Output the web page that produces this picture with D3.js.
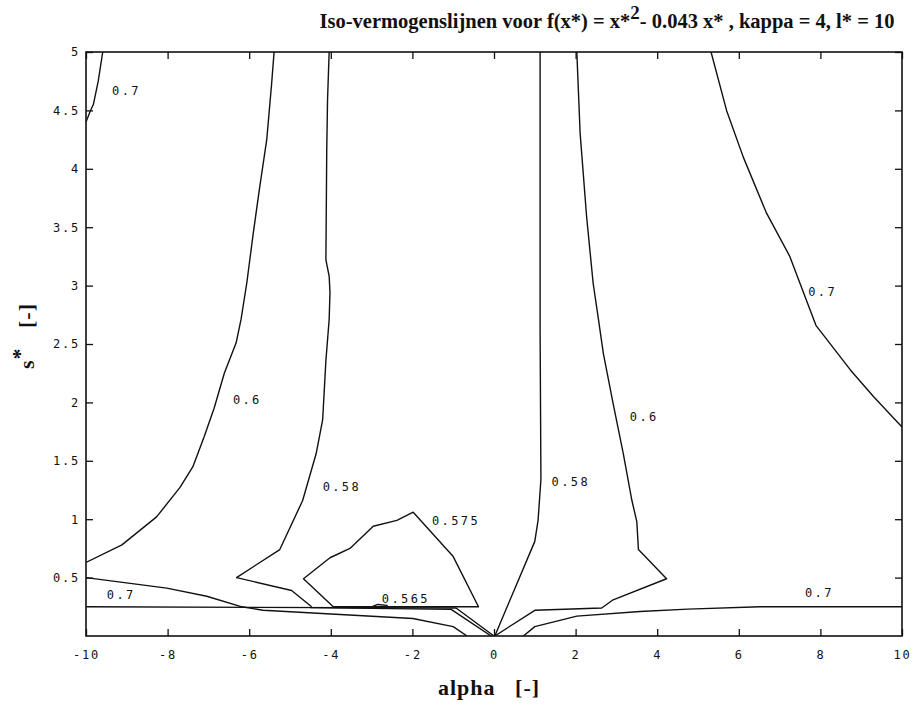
<!DOCTYPE html>
<html>
<head>
<meta charset="utf-8">
<script src="https://cdnjs.cloudflare.com/ajax/libs/d3/7.8.5/d3.min.js"></script>
<style>
  body { margin: 0; background: #fff; }
  .tick text { font-family: "DejaVu Sans Mono", monospace; font-size: 12px; letter-spacing: 1.8px; fill: #111; }
  .tick line { stroke: #111; stroke-width: 1.3; }
  .serif { font-family: "Liberation Serif", "Times New Roman", serif; font-weight: bold; fill: #111; white-space: pre; }
</style>
</head>
<body>
<div id="chart"></div>
<script>

// axis ticks
var xTicks = [-10, -8, -6, -4, -2, 0, 2, 4, 6, 8, 10];
var yTicks = [0.5, 1, 1.5, 2, 2.5, 3, 3.5, 4, 4.5, 5];

// iso lines, points as [alpha, s*]
var iso07TopLeft = [[-10, 4.4], [-9.9, 4.49], [-9.82, 4.55], [-9.7, 4.75], [-9.59, 5]];
var iso06Left = [[-5.39, 5], [-5.45, 4.73], [-5.57, 4.25], [-5.74, 3.85], [-5.9, 3.45], [-6.06, 3.02],
    [-6.2, 2.71], [-6.32, 2.51], [-6.61, 2.25], [-6.86, 1.95], [-7.1, 1.71], [-7.38, 1.45],
    [-7.7, 1.27], [-8.27, 1.02], [-9.12, 0.78], [-10, 0.63]];
var iso058Left = [[-4.04, 5], [-4.08, 4.59], [-4.1, 4.14], [-4.12, 3.22], [-4.04, 3.08], [-4.02, 2.94],
    [-4.04, 2.71], [-4.12, 2.36], [-4.2, 1.85], [-4.36, 1.56], [-4.69, 1.16], [-5.25, 0.74],
    [-6.31, 0.5], [-4.96, 0.39], [-4.47, 0.25]];
var iso0575 = [[-3.94, 0.25], [-4.67, 0.49], [-4.02, 0.67], [-3.53, 0.75], [-2.96, 0.94], [-2.38, 0.99],
    [-1.98, 1.06], [-1.0, 0.68], [-0.38, 0.25], [-3.94, 0.25]];
var iso0565Loop = [[-3.0, 0.25], [-2.85, 0.27], [-2.62, 0.262], [-2.7, 0.245], [-3.0, 0.25]];
var iso07LowLeft = [[-10, 0.5], [-8.02, 0.41], [-7.04, 0.34], [-6.18, 0.25], [-5.66, 0.22],
    [-1.99, 0.15], [-1.0, 0.08], [-0.66, 0.0]];
var isoFlatLeft = [[-10, 0.25], [-0.93, 0.24], [0, 0]];
var isoFlatLeft2 = [[-4.5, 0.243], [-1.05, 0.228], [-0.07, 0]];
var iso058Right = [[1.13, 5], [1.13, 2.62], [1.15, 1.34], [1.08, 0.99], [1.0, 0.81], [0.02, 0.0]];
var iso06Right = [[2.03, 5], [2.11, 4.31], [2.27, 3.59], [2.43, 3.02], [2.56, 2.71], [2.68, 2.42],
    [2.92, 1.99], [3.17, 1.56], [3.38, 1.16], [3.5, 0.98], [3.54, 0.74], [4.23, 0.49],
    [2.92, 0.31], [2.64, 0.24], [1.0, 0.22], [0.02, 0.0]];
var iso07RightTop = [[5.32, 5], [5.7, 4.5], [6.11, 4.1], [6.68, 3.62], [7.25, 3.25], [7.89, 2.66],
    [8.73, 2.28], [9.3, 2.05], [10, 1.79]];
var iso07RightLow = [[0.72, 0], [1.0, 0.08], [2.03, 0.17], [3.58, 0.21], [4.75, 0.23], [6.52, 0.25], [10, 0.25]];

var isoLines = [iso07TopLeft, iso06Left, iso058Left, iso0575, iso0565Loop, iso07LowLeft,
    isoFlatLeft, isoFlatLeft2, iso058Right, iso06Right, iso07RightTop, iso07RightLow];

// inline labels: text, alpha, s*
var isoLabels = [["0.7", -9.36, 4.67], ["0.6", -6.4, 2.02], ["0.58", -4.2, 1.28], ["0.575", -1.52, 0.99],
    ["0.565", -2.75, 0.32], ["0.7", -9.49, 0.35], ["0.58", 1.41, 1.32], ["0.6", 3.33, 1.88],
    ["0.7", 7.7, 2.95], ["0.7", 7.62, 0.37]];

var W = 914, H = 705;
var margin = {top: 52, right: 12, bottom: 69, left: 86};
var w = W - margin.left - margin.right;
var h = H - margin.top - margin.bottom;

var svg = d3.select("#chart").append("svg")
    .attr("width", W)
    .attr("height", H);

var g = svg.append("g")
    .attr("transform", "translate(" + margin.left + "," + margin.top + ")");

var x = d3.scaleLinear().domain([-10, 10]).range([0, w]);
var y = d3.scaleLinear().domain([0, 5]).range([h, 0]);

// title
var title = svg.append("text")
    .attr("class", "serif")
    .attr("x", 607)
    .attr("y", 28)
    .attr("text-anchor", "middle")
    .attr("font-size", "20.5px");
title.append("tspan").text("Iso-vermogenslijnen voor f(x*) = x*");
title.append("tspan").attr("dy", -9).attr("font-size", "19px").text("2");
title.append("tspan").attr("dy", 9).text("- 0.043 x* , kappa = 4, l* = 10");

// axes, ticks pointing inward
g.append("g")
    .attr("transform", "translate(0," + h + ")")
    .call(d3.axisBottom(x).tickValues(xTicks).tickSize(-7).tickPadding(14)
        .tickFormat(function(d) { return String(d); }))
    .call(function(a) { a.select(".domain").remove(); });

g.append("g")
    .call(d3.axisTop(x).tickValues(xTicks).tickSize(-7).tickFormat(""))
    .call(function(a) { a.select(".domain").remove(); });

g.append("g")
    .call(d3.axisLeft(y).tickValues(yTicks).tickSize(-7).tickPadding(6)
        .tickFormat(function(d) { return String(d); }))
    .call(function(a) { a.select(".domain").remove(); });

g.append("g")
    .attr("transform", "translate(" + w + ",0)")
    .call(d3.axisRight(y).tickValues(yTicks).tickSize(-7).tickFormat(""))
    .call(function(a) { a.select(".domain").remove(); });

g.append("defs").append("clipPath").attr("id", "clip")
    .append("rect").attr("width", w).attr("height", h);

var line = d3.line()
    .x(function(d) { return x(d[0]); })
    .y(function(d) { return y(d[1]); });

g.append("g")
    .attr("clip-path", "url(#clip)")
    .selectAll("path")
    .data(isoLines)
    .enter()
    .append("path")
    .attr("d", line)
    .attr("fill", "none")
    .attr("stroke", "#111")
    .attr("stroke-width", 1.4)
    .attr("stroke-linejoin", "round");

g.selectAll(".isolabel")
    .data(isoLabels)
    .enter()
    .append("text")
    .attr("class", "isolabel")
    .text(function(d) { return d[0]; })
    .attr("x", function(d) { return x(d[1]); })
    .attr("y", function(d) { return y(d[2]); })
    .attr("dy", "0.35em")
    .attr("font-family", "DejaVu Sans Mono, monospace")
    .attr("font-size", "12px")
    .attr("letter-spacing", "2.4px")
    .attr("fill", "#111");

// frame
g.append("rect")
    .attr("width", w)
    .attr("height", h)
    .attr("fill", "none")
    .attr("stroke", "#111")
    .attr("stroke-width", 1.6);

// axis titles
svg.append("text")
    .attr("class", "serif")
    .attr("x", 489)
    .attr("y", 695)
    .attr("text-anchor", "middle")
    .attr("font-size", "22px")
    .attr("letter-spacing", "1px")
    .text("alpha   [-]");

var ylab = svg.append("text")
    .attr("class", "serif")
    .attr("transform", "translate(34," + 336 + ") rotate(-90)")
    .attr("text-anchor", "middle")
    .attr("font-size", "22px")
    .attr("letter-spacing", "1px");
ylab.append("tspan").text("s");
ylab.append("tspan").attr("dy", -7).text("*");
ylab.append("tspan").attr("dy", 7).text("   [-]");

</script>
</body>
</html>
